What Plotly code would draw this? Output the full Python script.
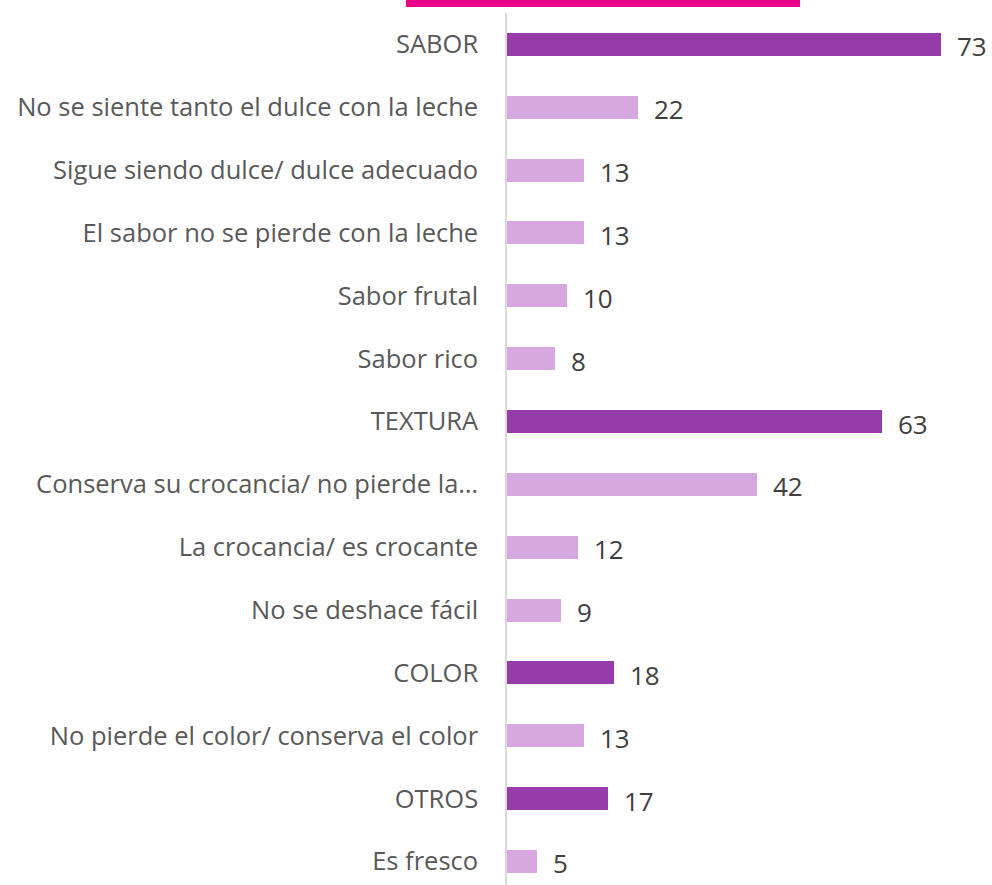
import plotly.graph_objects as go

categories = [
    "SABOR",
    "No se siente tanto el dulce con la leche",
    "Sigue siendo dulce/ dulce adecuado",
    "El sabor no se pierde con la leche",
    "Sabor frutal",
    "Sabor rico",
    "TEXTURA",
    "Conserva su crocancia/ no pierde la…",
    "La crocancia/ es crocante",
    "No se deshace fácil",
    "COLOR",
    "No pierde el color/ conserva el color",
    "OTROS",
    "Es fresco",
]
values = [73, 22, 13, 13, 10, 8, 63, 42, 12, 9, 18, 13, 17, 5]
is_group = [True, False, False, False, False, False, True, False, False, False, True, False, True, False]

DARK = "#953BAA"
LIGHT = "#D7A7E0"
colors = [DARK if g else LIGHT for g in is_group]

W, H = 992, 885
L, R, T, B = 507, 9, 13, 0

fig = go.Figure()
fig.add_trace(go.Bar(
    y=categories,
    x=values,
    orientation="h",
    marker=dict(color=colors, line=dict(width=0)),
    width=0.366,
    hoverinfo="skip",
))

for c, v in zip(categories, values):
    fig.add_annotation(
        x=v, y=c, text=str(v), showarrow=False,
        xanchor="left", yanchor="middle", xshift=14, yshift=-2,
        font=dict(family="Open Sans", size=26, color="#404040"),
    )

plot_h = H - T - B
plot_w = W - L - R
fig.add_shape(
    type="rect", xref="paper", yref="paper",
    x0=(406 - L) / plot_w, x1=(800 - L) / plot_w,
    y0=1 - (7 - T) / plot_h, y1=1 - (0 - T) / plot_h,
    fillcolor="#EC008C", line=dict(width=0), layer="above",
)

fig.update_layout(
    width=W, height=H,
    margin=dict(l=L, r=R, t=T, b=B, pad=0),
    plot_bgcolor="white", paper_bgcolor="white",
    showlegend=False,
    bargap=0,
)
fig.update_xaxes(
    range=[0, 80], showgrid=False, zeroline=False, showline=False,
    showticklabels=False, ticks="",
)
fig.update_yaxes(
    type="category",
    range=[13 + (plot_h / 62.85 - 13.5), -0.5],
    showgrid=False, zeroline=False,
    showline=True, linecolor="#D9D9D9", linewidth=1.5,
    ticks="", ticklabelstandoff=22,
    tickfont=dict(family="Open Sans", size=25.5, color="#595959"),
)

fig.write_html(
    "out.html",
    config={"displayModeBar": False},
    post_script="document.body.style.margin='0';document.body.style.overflow='hidden';",
)
